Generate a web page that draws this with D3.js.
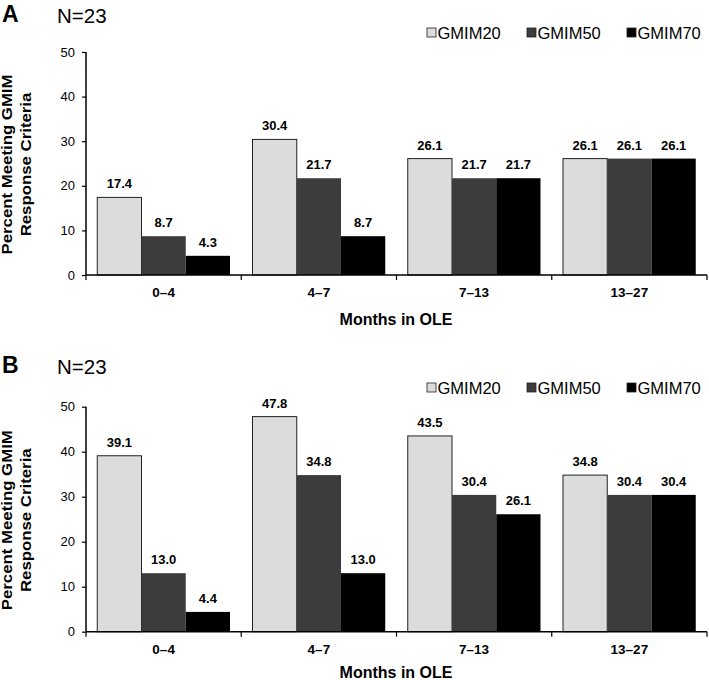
<!DOCTYPE html>
<html><head><meta charset="utf-8">
<script src="https://cdn.jsdelivr.net/npm/d3@7"></script>
<style>body{margin:0;background:#fff}svg{display:block;font-family:"Liberation Sans",Arial,sans-serif}</style>
</head><body><svg id="c" width="709" height="680"></svg>
<script>
const categories = ["0\u20134","4\u20137","7\u201313","13\u201327"];
const seriesNames = ["GMIM20","GMIM50","GMIM70"];
const seriesColors = ["#dcdcdc","#3c3c3c","#000000"];
const panelA_GMIM20 = [17.4,30.4,26.1,26.1];
const panelA_GMIM50 = [8.7,21.7,21.7,26.1];
const panelA_GMIM70 = [4.3,8.7,21.7,26.1];
const panelB_GMIM20 = [39.1,47.8,43.5,34.8];
const panelB_GMIM50 = [13.0,34.8,30.4,30.4];
const panelB_GMIM70 = [4.4,13.0,26.1,30.4];
const yTicks = [0,10,20,30,40,50];
const panelLabels = ["A","B"];
const nLabel = "N=23";
const xTitle = "Months in OLE";
const yTitle = ["Percent Meeting GMIM","Response Criteria"];

const svg = d3.select("#c");

function panel(cfg){
  const g = svg.append("g");
  const x0 = d3.scaleBand().domain(categories).range([86,707]).paddingInner(0.145).paddingOuter(0.0725);
  const x1 = d3.scaleBand().domain(seriesNames).range([0,x0.bandwidth()]);
  const y = d3.scaleLinear().domain([0,50]).range([cfg.zero,cfg.top]);
  const data = [cfg.s20,cfg.s50,cfg.s70];

  // panel label & N
  g.append("text").attr("x",2).attr("y",cfg.labelY).attr("font-size",23).attr("font-weight","bold").text(cfg.label);
  g.append("text").attr("x",57).attr("y",cfg.labelY+1).attr("font-size",20.5).text(nLabel);

  // legend
  const lx = [427,527,627];
  seriesNames.forEach((s,i)=>{
    g.append("rect").attr("x",lx[i]).attr("y",cfg.legendY-5).attr("width",9).attr("height",9)
      .attr("fill",seriesColors[i]).attr("stroke","#222").attr("stroke-width",0.8);
    g.append("text").attr("x",lx[i]+10.5).attr("y",cfg.legendY+6).attr("font-size",16.5).text(s);
  });

  // bars
  categories.forEach((c,ci)=>{
    seriesNames.forEach((s,si)=>{
      const v = data[si][ci];
      const bx = x0(c)+x1(s);
      g.append("rect").attr("x",bx).attr("y",y(v)).attr("width",x1.bandwidth()).attr("height",y(0)-y(v))
        .attr("fill",seriesColors[si]).attr("stroke","#222").attr("stroke-width",si===0?1:0);
      g.append("text").attr("x",bx+x1.bandwidth()/2).attr("y",y(v)-9).attr("text-anchor","middle")
        .attr("font-size",13).attr("font-weight","bold").text(v.toFixed(1));
    });
  });

  // y axis
  const ya = g.append("g").attr("transform","translate(86,0)")
    .call(d3.axisLeft(y).tickValues(yTicks).tickSize(4).tickPadding(7));
  ya.select(".domain").attr("stroke","#000").attr("stroke-width",1.5).attr("d",`M-0,${cfg.top}V${cfg.zero}`);
  ya.selectAll("text").attr("font-size",13).attr("fill","#000").attr("font-family","Liberation Sans, Arial, sans-serif");
  ya.selectAll("line").attr("stroke","#000").attr("stroke-width",1.2);

  // x axis
  const bounds = [86].concat(categories.map(c=>x0(c)+x0.bandwidth()+x0.step()*x0.paddingInner()/2));
  bounds[bounds.length-1] = 707;
  g.append("line").attr("x1",86).attr("x2",707).attr("y1",cfg.zero).attr("y2",cfg.zero).attr("stroke","#000").attr("stroke-width",1.5);
  bounds.forEach(b=>{
    g.append("line").attr("x1",b).attr("x2",b).attr("y1",cfg.zero).attr("y2",cfg.zero+5).attr("stroke","#000").attr("stroke-width",1.2);
  });
  categories.forEach(c=>{
    g.append("text").attr("x",x0(c)+x0.bandwidth()/2).attr("y",cfg.zero+22).attr("text-anchor","middle")
      .attr("font-size",13.5).attr("font-weight","bold").text(c);
  });
  g.append("text").attr("x",396).attr("y",cfg.xTitleY).attr("text-anchor","middle")
    .attr("font-size",16).attr("font-weight","bold").text(xTitle);

  // y title
  const cy = (cfg.top+cfg.zero)/2 + 1;
  yTitle.forEach((t,i)=>{
    g.append("text").attr("transform",`translate(${11.5+i*19.5},${cy}) rotate(-90) scale(1.2,1)`).attr("text-anchor","middle")
      .attr("font-size",14).attr("font-weight","bold").text(t);
  });
}

panel({label:panelLabels[0],labelY:22,legendY:33,top:52,zero:275,xTitleY:325,s20:panelA_GMIM20,s50:panelA_GMIM50,s70:panelA_GMIM70});
panel({label:panelLabels[1],labelY:373,legendY:388,top:406.7,zero:631.7,xTitleY:678,s20:panelB_GMIM20,s50:panelB_GMIM50,s70:panelB_GMIM70});
</script></body></html>
